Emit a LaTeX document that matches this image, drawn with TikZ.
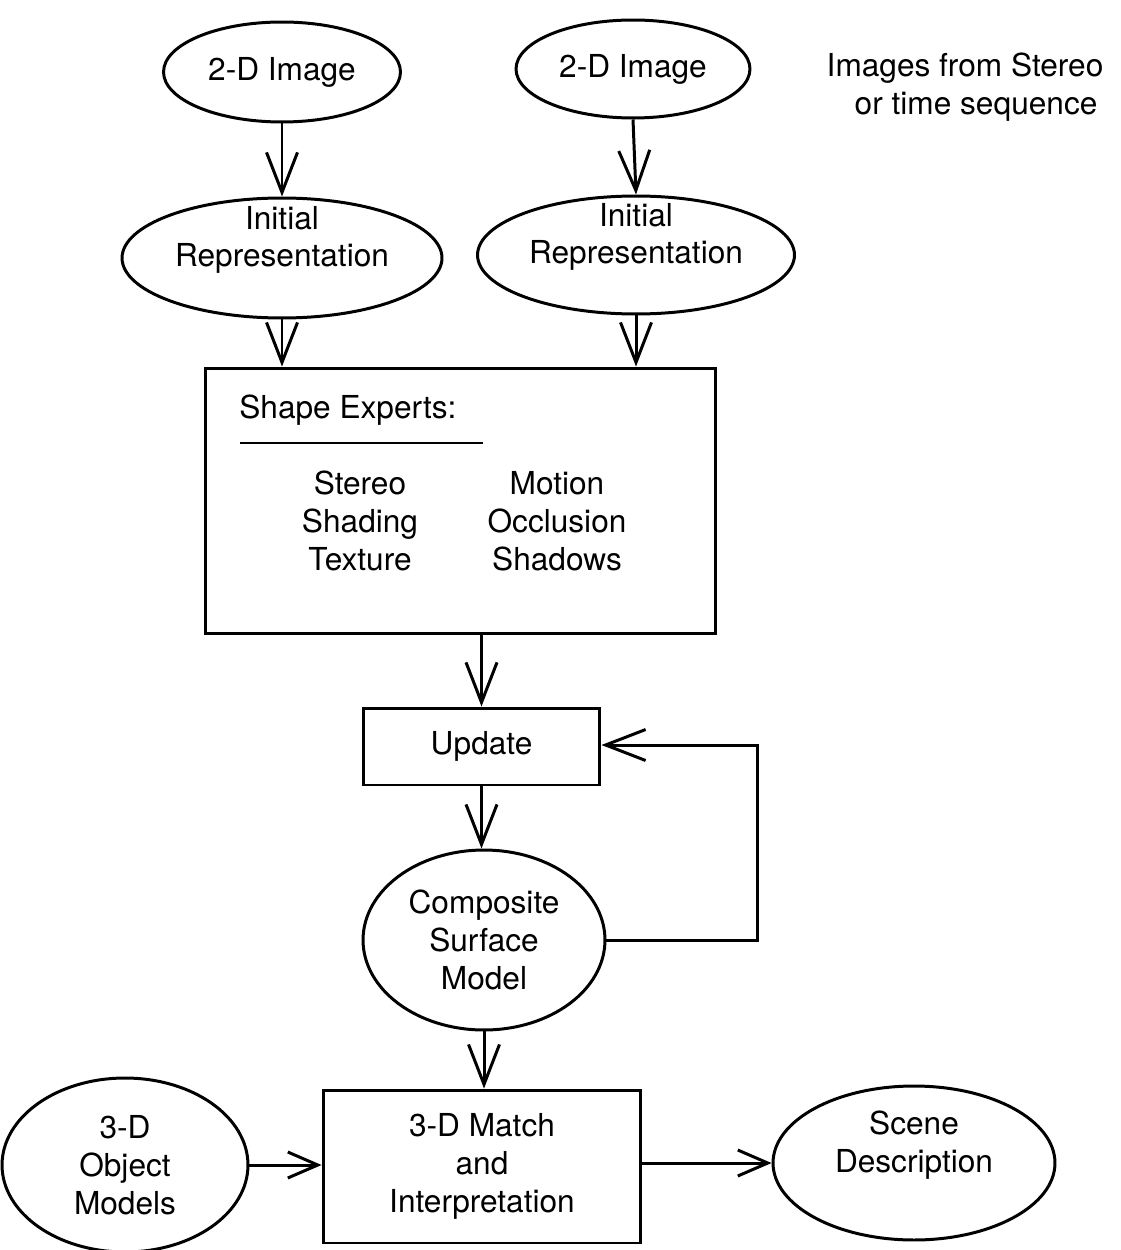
\documentclass[tikz,border=0pt]{standalone}
\usepackage{fontspec}
\setmainfont{TeX Gyre Heros}
\usetikzlibrary{shapes.geometric, arrows.meta, positioning}

\begin{document}
\begin{tikzpicture}[
  x=0.02cm, y=-0.02cm, line width=1.7pt,
  every node/.style={font=\fontsize{18}{21.5}\selectfont, align=center},
  every label/.style={font=\fontsize{18}{21.5}\selectfont, align=center},
  oval/.style={ellipse, draw, inner sep=0pt},
  box/.style={rectangle, draw, inner sep=0pt},
  lifted/.style={yshift=0.36cm},
  flow/.style={-{Straight Barb[length=0.8cm, width=0.62cm, line width=1.7pt]}},
  side/.style={-{Straight Barb[length=0.6cm, width=0.52cm, line width=1.7pt]}}
]
  \useasboundingbox (0,0) rectangle (1120,1250);

  % inputs
  \node[oval, minimum width=4.74cm, minimum height=2cm] (imgA) at (282,72) {2-D Image};
  \node[oval, minimum width=4.68cm, minimum height=1.96cm] (imgB) at (633,69) {2-D Image};
  \node (note) at (965,87) {Images from Stereo\\ \hspace*{0.7em}or time sequence};

  \node[oval, minimum width=6.4cm, minimum height=2.4cm,
    label={[lifted]center:Initial\\Representation}] (repA) at (282,258) {};
  \node[oval, minimum width=6.34cm, minimum height=2.36cm,
    label={[lifted]center:Initial\\Representation}] (repB) at (636,255) {};

  % shape experts
  \node[box, minimum width=10.22cm, minimum height=5.32cm] (experts) at (460.5,501) {};
  \node[anchor=west] (exphead) at (232,410) {Shape Experts:};
  \draw (240,443) -- (483,443);
  \node (expleft) at (360,521) {Stereo\\ Shading\\ Texture};
  \node (expright) at (557,521) {Motion\\ Occlusion\\ Shadows};

  \node[box, minimum width=4.74cm, minimum height=1.54cm] (update) at (481.5,746.5) {Update};
  \node[oval, minimum width=4.84cm, minimum height=3.6cm] (surface) at (484,940) {Composite\\Surface\\Model};

  % bottom row
  \node[box, minimum width=6.36cm, minimum height=3.06cm] (match) at (482,1166.5) {3-D Match\\and\\Interpretation};
  \node[oval, minimum width=4.92cm, minimum height=3.48cm] (objects) at (125,1165) {3-D\\Object\\Models};
  \node[oval, minimum width=5.64cm, minimum height=3.08cm,
    label={[lifted]center:Scene\\Description}] (scene) at (914,1163) {};

  \draw[flow] (imgA.south) -- (repA.north);
  \draw[flow] (imgB.south) -- (repB.north);
  \draw[flow] (repA.south) -- (repA.south |- experts.north);
  \draw[flow] (repB.south) -- (repB.south |- experts.north);
  \draw[flow] (update.north |- experts.south) -- (update.north);
  \draw[flow] (update.south) -- (update.south |- surface.north);
  \draw[flow] (surface.east) -- (757,940) -- (757,745) -- (update.east |- 0,745);
  \draw[flow] (surface.south) -- (surface.south |- match.north);
  \draw[side] (objects.east) -- (match.west |- objects.east);
  \draw[side] (match.east |- scene.west) -- (scene.west);
\end{tikzpicture}
\end{document}
